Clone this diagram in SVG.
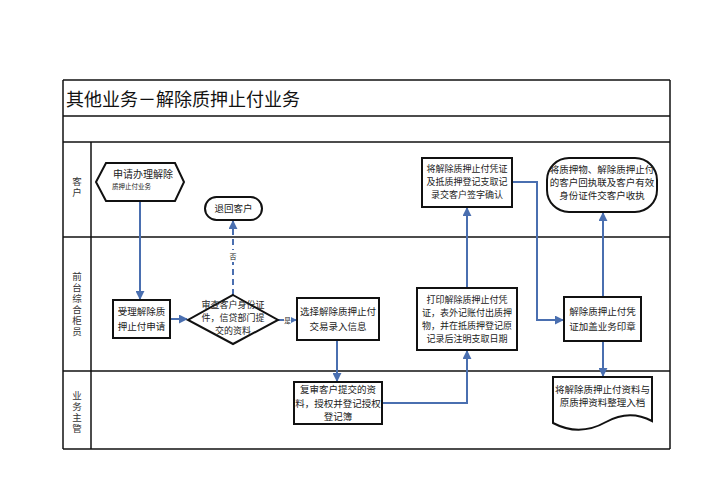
<svg xmlns="http://www.w3.org/2000/svg" width="707" height="500" viewBox="0 0 707 500">
<style>
text{font-family:"Noto Sans CJK SC","Noto Sans CJK JP",sans-serif;fill:#222;}
.t{font-size:9.5px;text-anchor:middle;}
.s{font-size:9px;}
.lane{font-size:9.5px;text-anchor:middle;fill:#333;writing-mode:vertical-rl;letter-spacing:1.5px;}
.frame{stroke:#111;stroke-width:1.5;fill:none;}
.box{fill:#fff;stroke:#111;stroke-width:2;}
.c{fill:none;stroke:#4a6fb0;stroke-width:2;}
.dash{stroke-dasharray:6 4;}
</style>
<defs>
<marker id="ah" viewBox="0 0 10 10" refX="9" refY="5" markerWidth="4.5" markerHeight="4.5" orient="auto" markerUnits="strokeWidth">
<path d="M0,0 L10,5 L0,10 z" fill="#4a6fb0"/>
</marker>
</defs>
<rect width="707" height="500" fill="#fff"/>
<g id="frame">
<line class="frame" x1="63" y1="80" x2="670" y2="80"/>
<line class="frame" x1="63" y1="116" x2="670" y2="116"/>
<line class="frame" x1="63" y1="142" x2="670" y2="142"/>
<line class="frame" x1="63" y1="237" x2="670" y2="237"/>
<line class="frame" x1="63" y1="371" x2="670" y2="371"/>
<line class="frame" x1="63" y1="449" x2="670" y2="449"/>
<line class="frame" x1="63" y1="80" x2="63" y2="449"/>
<line class="frame" x1="670" y1="80" x2="670" y2="449"/>
<line class="frame" x1="91" y1="142" x2="91" y2="449"/>
<text x="66" y="106" style="font-size:18px;fill:#111;">其他业务－解除质押止付业务</text>
<text class="lane" x="77" y="188">客户</text>
<text class="lane" x="77" y="305">前台综合柜员</text>
<text class="lane" x="77" y="413">业务主管</text>
</g>
<g id="connectors">
<path class="c" d="M140,201 L140,299" marker-end="url(#ah)"/>
<path class="c" d="M170,319 L187,319" marker-end="url(#ah)"/>
<path class="c dash" d="M233,295 L233,221" marker-end="url(#ah)"/>
<rect x="228" y="250" width="10" height="12" fill="#fff"/>
<text x="233" y="259" style="font-size:7px;text-anchor:middle;">否</text>
<path class="c" d="M278,320 L296,320" marker-end="url(#ah)"/>
<rect x="284" y="315" width="7" height="9" fill="#fff"/>
<text x="287.5" y="322.5" style="font-size:6.5px;text-anchor:middle;">是</text>
<path class="c" d="M337,340 L337,381" marker-end="url(#ah)"/>
<path class="c" d="M382,403 L467,403 L467,351" marker-end="url(#ah)"/>
<path class="c" d="M467,288 L467,208" marker-end="url(#ah)"/>
<path class="c" d="M512,182 L537,182 L537,320 L563,320" marker-end="url(#ah)"/>
<path class="c" d="M603,297 L603,213" marker-end="url(#ah)"/>
<path class="c" d="M603,341 L603,376" marker-end="url(#ah)"/>
</g>
<g id="n1">
<path class="box" d="M96,182 L106,163 L175,163 L184,182 L175,201 L106,201 Z"/>
<text x="113" y="178" style="font-size:10px;">申请办理解除</text>
<text x="112" y="189" style="font-size:6.5px;">质押止付业务</text>
</g>
<g id="n2">
<rect class="box" x="205" y="197" width="57" height="23" rx="11.5"/>
<text class="t" x="233.5" y="212">退回客户</text>
</g>
<g id="n3">
<rect class="box" x="113" y="300" width="57" height="38"/>
<text class="t"><tspan x="141.5" y="315">受理解除质</tspan><tspan x="141.5" y="330">押止付申请</tspan></text>
</g>
<g id="n4">
<path class="box" d="M233,295 L278,320 L233,344 L188,320 Z"/>
<text class="t s"><tspan x="233" y="308">审查客户身份证</tspan><tspan x="233" y="321">件，信贷部门提</tspan><tspan x="233" y="334">交的资料</tspan></text>
</g>
<g id="n5">
<rect class="box" x="297" y="298" width="82" height="42"/>
<text class="t"><tspan x="338" y="315">选择解除质押止付</tspan><tspan x="338" y="330">交易录入信息</tspan></text>
</g>
<g id="n6">
<rect class="box" x="294" y="382" width="88" height="42"/>
<text class="t"><tspan x="338" y="393">复审客户提交的资</tspan><tspan x="338" y="407">料，授权并登记授权</tspan><tspan x="338" y="420">登记簿</tspan></text>
</g>
<g id="n7">
<rect class="box" x="417" y="288" width="100" height="62"/>
<text class="t s"><tspan x="467" y="303">打印解除质押止付凭</tspan><tspan x="467" y="316">证，表外记账付出质押</tspan><tspan x="467" y="329">物，并在抵质押登记原</tspan><tspan x="467" y="342">记录后注明支取日期</tspan></text>
</g>
<g id="n8">
<rect class="box" x="422" y="158" width="90" height="49"/>
<text class="t s"><tspan x="467" y="172">将解除质押止付凭证</tspan><tspan x="467" y="185">及抵质押登记支取记</tspan><tspan x="467" y="198">录交客户签字确认</tspan></text>
</g>
<g id="n9">
<rect class="box" x="564" y="297" width="77" height="44"/>
<text class="t"><tspan x="602.5" y="315">解除质押止付凭</tspan><tspan x="602.5" y="330">证加盖业务印章</tspan></text>
</g>
<g id="n10">
<rect class="box" x="547" y="158" width="110" height="54" rx="22"/>
<text class="t"><tspan x="602" y="173">将质押物、解除质押止付</tspan><tspan x="602" y="186">的客户回执联及客户有效</tspan><tspan x="602" y="199">身份证件交客户收执</tspan></text>
</g>
<g id="n11">
<path class="box" d="M553,377 L652,377 L652,421 C637,413 622,413 606,422 C590,431 572,433 553,423 Z"/>
<text class="t"><tspan x="602.5" y="393">将解除质押止付资料与</tspan><tspan x="602.5" y="406">原质押资料整理入档</tspan></text>
</g>
</svg>
